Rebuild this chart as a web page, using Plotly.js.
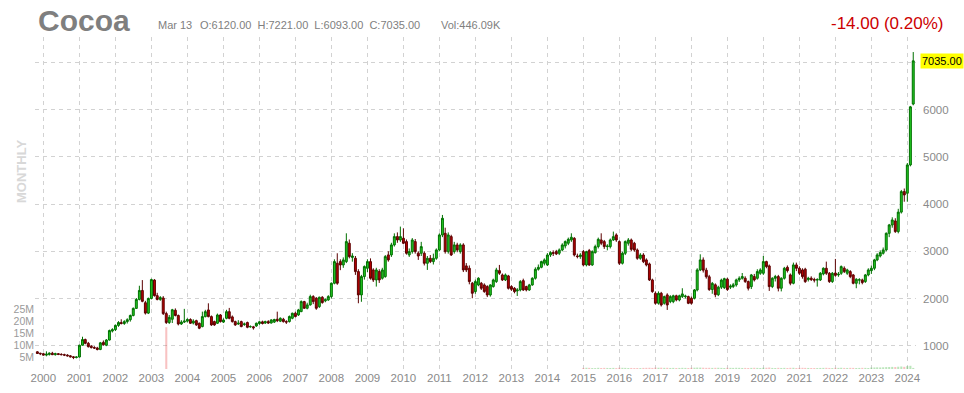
<!DOCTYPE html>
<html><head><meta charset="utf-8">
<script src="https://cdn.plot.ly/plotly-3.0.1.min.js"></script>
<style>html,body{margin:0;padding:0;background:#fff;}#chart{width:964px;height:393px;}</style>
</head><body><div id="chart"></div>
<script>
// First candle: November 1999, one candle per month through March 2024
const firstYear = 1999, firstMonth = 11;

const open = [
 870,840,
 830,800,815,840,810,830,815,810,800,785,765,750,
 760,1010,1130,1050,990,960,950,920,1070,1010,1120,1310,
 1340,1430,1490,1470,1510,1550,1640,1790,1980,2170,1910,1690,
 2000,2390,2060,1980,2010,1680,1490,1560,1750,1640,1460,1500,
 1520,1555,1480,1530,1475,1404,1616,1757,1616,1510,1475,1651,
 1500,1580,1720,1610,1510,1460,1510,1450,1490,1400,1400,1418,
 1470,1505,1480,1510,1480,1500,1560,1520,1560,1510,1511,1581,
 1687,1652,1722,1934,1793,1864,2040,2005,1828,2026,1950,1969,
 2040,2323,2746,2781,2711,2781,3170,2870,2852,2570,2076,2464,
 2640,2781,2605,2393,2570,2429,2464,2923,2923,3135,3311,3240,
 3276,3205,2923,2993,3205,2960,2958,2958,2746,2852,2781,2852,
 3029,3346,3381,2993,3311,2993,3135,2993,3135,2690,2640,2323,
 2146,2287,2322,2287,2252,2075,2252,2358,2590,2499,2393,2478,
 2252,2216,2160,2181,2378,2252,2181,2287,2428,2619,2661,2746,
 2711,2922,2972,2993,2958,3028,3113,3170,3240,3275,2900,2887,
 2993,2711,3014,2711,2972,3099,3240,3205,3099,3099,3240,3346,
 3205,2746,2958,3170,3240,3170,3028,2852,2922,2817,2732,2393,
 2110,1899,2110,1899,2075,1934,1934,2057,1969,2040,2040,2040,
 2004,2004,2181,2605,2817,2600,2460,2190,2290,2080,2240,2230,
 2410,2240,2252,2287,2393,2428,2428,2358,2252,2464,2428,2534,
 2535,2781,2690,2252,2428,2464,2217,2428,2660,2500,2322,2711,
 2640,2605,2620,2400,2430,2400,2390,2393,2520,2640,2534,2358,
 2540,2500,2534,2640,2535,2570,2499,2322,2390,2393,2358,2499,
 2590,2640,2817,2901,2958,3029,3381,3558,3643,3417,3830,4265,
 4230,4830,6120
];
const high = [
 885,850,
 845,880,860,870,850,845,840,830,820,800,780,775,
 1020,1190,1150,1080,1010,990,975,1080,1110,1140,1340,1370,
 1450,1520,1560,1540,1580,1660,1810,2010,2270,2390,1950,2020,
 2420,2410,2120,2050,2050,1720,1650,1780,1790,1660,1540,1780,
 1580,1580,1560,1550,1490,1721,1760,1898,1640,1530,1680,1670,
 1580,1760,1800,1640,1530,1540,1530,1490,1510,1430,1420,1490,
 1520,1530,1530,1540,1560,1570,1721,1600,1590,1540,1640,1700,
 1720,1780,1960,1950,1910,2080,2070,2030,2040,2050,2000,2070,
 2340,2830,2958,2830,2870,3381,3250,2960,2900,2620,2500,2700,
 2830,2850,2640,2650,2620,2650,2920,3000,3180,3380,3400,3523,
 3487,3250,3060,3280,3260,3000,3200,3000,2900,2920,2950,3060,
 3380,3770,3500,3400,3350,3200,3180,3170,3170,2750,2700,2350,
 2400,2450,2350,2320,2280,2300,2420,2650,2711,2530,2530,2500,
 2280,2240,2220,2390,2420,2270,2310,2450,2660,2720,2800,2850,
 2960,3000,3020,3030,3060,3170,3230,3290,3381,3300,2950,2960,
 3030,3010,3050,3020,3140,3290,3381,3240,3150,3270,3417,3380,
 3230,2990,3230,3280,3270,3200,3060,2960,2960,2850,2760,2420,
 2150,2150,2140,2060,2110,2070,2080,2080,2080,2217,2080,2060,
 2040,2200,2640,2936,2870,2650,2500,2350,2320,2270,2420,2440,
 2440,2300,2330,2420,2470,2540,2470,2380,2520,2520,2620,2640,
 2901,2800,2720,2450,2500,2500,2450,2670,2700,2530,2760,2760,
 2680,2640,2650,2460,2470,2440,2430,2560,2660,2781,2560,2560,
 2838,2560,2700,2680,2630,2600,2520,2430,2430,2420,2520,2640,
 2700,2840,2960,3020,3080,3400,3580,3720,3700,3900,4300,4330,
 4870,6080,7221
];
const low = [
 830,800,
 790,775,790,800,790,800,795,780,770,750,715,730,
 750,1000,1030,960,940,930,900,905,1000,990,1110,1280,
 1310,1400,1450,1440,1470,1510,1620,1780,1960,1920,1660,1670,
 1980,2040,1960,1950,1650,1460,1460,1480,1620,1430,1440,1480,
 1490,1460,1450,1420,1350,1390,1600,1600,1420,1420,1460,1490,
 1480,1560,1560,1490,1420,1440,1390,1420,1370,1380,1340,1400,
 1440,1450,1460,1460,1470,1480,1500,1500,1490,1460,1490,1560,
 1600,1630,1710,1780,1770,1850,1880,1760,1800,1890,1920,1950,
 2000,2300,2290,2600,2650,2750,2850,2780,2500,1899,1930,2400,
 2560,2400,2350,2252,2330,2400,2440,2780,2880,3100,3180,3200,
 3150,2930,2880,2950,2950,2817,2900,2700,2605,2750,2720,2820,
 3000,3300,2950,2950,2900,2950,2980,2950,2560,2560,2300,2005,
 2100,2260,2180,2120,2030,2040,2230,2330,2500,2370,2370,2190,
 2160,2110,2054,2150,2160,2150,2160,2270,2400,2590,2640,2700,
 2690,2880,2900,2920,2920,3000,3060,3130,3200,2890,2850,2840,
 2680,2680,2690,2690,2950,3060,3130,3050,3020,3060,3220,3200,
 2710,2720,2920,3120,3000,2990,2820,2820,2750,2680,2370,2120,
 1870,1870,1830,1870,1757,1900,1900,1940,1940,2010,2000,1880,
 1870,1980,2150,2580,2550,2420,2160,2100,2026,2050,2200,2200,
 2160,2200,2220,2250,2350,2400,2330,2170,2200,2360,2400,2500,
 2500,2640,2160,2220,2360,2150,2150,2400,2550,2280,2300,2580,
 2500,2420,2330,2360,2370,2340,2252,2370,2490,2500,2330,2330,
 2460,2460,2500,2540,2500,2430,2300,2217,2300,2300,2330,2470,
 2520,2600,2790,2870,2930,3000,3300,3500,3390,3380,3800,4050,
 4050,4800,6093
];
const close = [
 835,830,
 800,820,840,810,830,815,810,800,785,765,750,760,
 1010,1130,1050,980,960,950,920,1060,1020,1120,1320,1340,
 1430,1490,1470,1510,1550,1640,1790,1980,2170,1940,1690,2000,
 2400,2060,1980,2020,1680,1490,1600,1760,1640,1460,1500,1520,
 1555,1475,1520,1440,1370,1616,1721,1616,1440,1440,1651,1510,
 1545,1720,1580,1510,1440,1475,1405,1460,1390,1405,1380,1475,
 1505,1470,1510,1480,1545,1555,1530,1580,1510,1500,1617,1687,
 1617,1758,1934,1793,1864,2040,1934,1793,2026,1913,1975,2040,
 2323,2781,2323,2711,2817,3205,2887,2900,2570,2076,2464,2676,
 2781,2429,2393,2605,2393,2605,2887,2817,3135,3311,3240,3311,
 3170,2958,2993,3240,2993,2900,3099,2746,2852,2781,2852,3029,
 3346,3699,2993,3346,2923,3135,3029,3135,2605,2605,2358,2111,
 2358,2429,2216,2146,2075,2287,2393,2605,2534,2393,2499,2216,
 2195,2146,2180,2358,2181,2181,2287,2428,2619,2660,2781,2817,
 2922,2972,2958,2944,3028,3134,3205,3254,3297,2922,2888,2922,
 2711,2993,2711,2993,3099,3254,3170,3099,3110,3240,3310,3240,
 2746,2958,3205,3240,3042,3028,2852,2922,2781,2711,2393,2146,
 1899,2110,1863,2040,1863,2040,2057,1969,2057,2097,2050,1899,
 1899,2181,2605,2817,2600,2460,2190,2320,2080,2240,2390,2420,
 2190,2260,2290,2393,2428,2464,2358,2217,2499,2393,2570,2605,
 2781,2676,2252,2428,2464,2217,2428,2640,2590,2322,2711,2640,
 2534,2464,2358,2430,2400,2390,2400,2534,2640,2534,2358,2534,
 2490,2515,2676,2570,2605,2464,2322,2407,2395,2337,2499,2605,
 2640,2817,2923,2972,3029,3381,3558,3664,3417,3830,4265,4194,
 4830,6060,7035
];
// Monthly volume (contracts); only one bar before 2015 is visible
const volume = [
 0,0,
 0,0,0,0,0,0,0,0,0,0,0,0,
 0,0,0,0,0,0,0,0,0,0,0,0,
 0,0,0,0,0,0,0,0,0,0,0,0,
 0,0,0,0,0,17500000,0,0,0,0,0,0,
 0,0,0,0,0,0,0,0,0,0,0,0,
 0,0,0,0,0,0,0,0,0,0,0,0,
 0,0,0,0,0,0,0,0,0,0,0,0,
 0,0,0,0,0,0,0,0,0,0,0,0,
 0,0,0,0,0,0,0,0,0,0,0,0,
 0,0,0,0,0,0,0,0,0,0,0,0,
 0,0,0,0,0,0,0,0,0,0,0,0,
 0,0,0,0,0,0,0,0,0,0,0,0,
 0,0,0,0,0,0,0,0,0,0,0,0,
 0,0,0,0,0,0,0,0,0,0,0,0,
 0,0,0,0,0,0,0,0,0,0,0,0,
 450000,520000,480000,400000,380000,500000,420000,470000,440000,410000,460000,390000,
 550000,500000,470000,420000,440000,400000,430000,380000,460000,490000,520000,450000,
 580000,530000,550000,480000,500000,440000,470000,420000,450000,490000,460000,410000,
 520000,550000,600000,580000,540000,480000,500000,460000,490000,520000,470000,430000,
 500000,480000,460000,520000,490000,440000,450000,420000,470000,500000,460000,410000,
 550000,520000,620000,450000,420000,480000,440000,470000,430000,490000,510000,400000,
 480000,500000,460000,440000,410000,430000,400000,450000,470000,490000,440000,390000,
 500000,470000,520000,450000,440000,480000,460000,430000,450000,480000,460000,420000,
 620000,650000,700000,660000,720000,800000,850000,880000,820000,950000,1050000,900000,
 1200000,1350000,446090
];
const yearTicks = [2000,2001,2002,2003,2004,2005,2006,2007,2008,2009,2010,2011,2012,2013,2014,2015,2016,2017,2018,2019,2020,2021,2022,2023,2024];
const priceTicks = [1000,2000,3000,4000,5000,6000,7000];
const volTicks = [5000000,10000000,15000000,20000000,25000000];
const volTickText = ['5M','10M','15M','20M','25M'];
const headerDate = 'Mar 13';
const headerOHLC = 'O:6120.00  H:7221.00  L:6093.00  C:7035.00';
const headerVol = 'Vol:446.09K';
const changeText = '-14.00 (0.20%)';
const lastPriceText = '7035.00';

const dates = close.map((_, k) => {
  const m = firstMonth - 1 + k;
  const y = firstYear + Math.floor(m / 12);
  const mm = (m % 12) + 1;
  return y + '-' + String(mm).padStart(2, '0') + '-01';
});

const W = 964, H = 393, L = 35, R = 48, T = 37, B = 24;
const px = x => (x - L) / (W - L - R);
const py = y => (H - B - y) / (H - T - B);

const volColors = close.map((c, k) => c < open[k] ? 'rgba(235,80,80,0.35)' : 'rgba(60,180,60,0.35)');

const traces = [
  {type: 'bar', x: dates, y: volume, yaxis: 'y2', marker: {color: volColors, line: {width: 0}}, hoverinfo: 'skip'},
  {type: 'candlestick', x: dates, open: open, high: high, low: low, close: close,
   increasing: {line: {color: '#007000', width: 1}, fillcolor: '#22c822'},
   decreasing: {line: {color: '#5c0000', width: 1}, fillcolor: '#b80000'},
   whiskerwidth: 0, hoverinfo: 'skip'}
];

const gridStyle = {showgrid: true, gridcolor: '#d2d2d2', griddash: '4px,4px', gridwidth: 1, zeroline: false, showline: false, ticks: ''};
const font = 'Arial, "Liberation Sans", sans-serif';
const tickFont = {family: font, size: 11.5, color: '#8a8a8a'};

const layout = {
  width: W, height: H,
  margin: {l: L, r: R, t: T, b: B},
  paper_bgcolor: '#ffffff', plot_bgcolor: '#ffffff',
  showlegend: false, bargap: 0.25, boxgap: 0,
  xaxis: Object.assign({}, gridStyle, {
    type: 'date', range: ['1999-10-08', '2024-03-29'],
    tickvals: yearTicks.map(y => y + '-01-01'), ticktext: yearTicks.map(String),
    tickfont: tickFont, rangeslider: {visible: false}
  }),
  yaxis: Object.assign({}, gridStyle, {
    side: 'right', range: [506, 7540],
    tickvals: priceTicks, ticktext: priceTicks.map(v => v === 7000 ? '' : String(v)),
    tickfont: tickFont, ticklabelstandoff: 6
  }),
  yaxis2: {
    overlaying: 'y', side: 'left', range: [0, 139000000],
    tickvals: volTicks, ticktext: volTickText, showgrid: false, zeroline: false, showline: false, ticks: '',
    tickfont: {family: font, size: 10.5, color: '#9a9a9a'}
  },
  annotations: [
    {xref: 'paper', yref: 'paper', x: px(36), y: py(20), xanchor: 'left', yanchor: 'middle', showarrow: false,
     text: '<b>Cocoa</b>', font: {family: font, size: 30, color: '#7f7f7f'}},
    {xref: 'paper', yref: 'paper', x: px(156), y: py(25), xanchor: 'left', yanchor: 'middle', showarrow: false,
     text: headerDate, font: {family: font, size: 11, color: '#808080'}},
    {xref: 'paper', yref: 'paper', x: px(198), y: py(25), xanchor: 'left', yanchor: 'middle', showarrow: false,
     text: headerOHLC, font: {family: font, size: 11, color: '#808080'}},
    {xref: 'paper', yref: 'paper', x: px(439), y: py(25), xanchor: 'left', yanchor: 'middle', showarrow: false,
     text: headerVol, font: {family: font, size: 11, color: '#808080'}},
    {xref: 'paper', yref: 'paper', x: px(945), y: py(24), xanchor: 'right', yanchor: 'middle', showarrow: false,
     text: changeText, font: {family: font, size: 17, color: '#cc0000'}},
    {xref: 'paper', yref: 'paper', x: px(22), y: py(172), xanchor: 'center', yanchor: 'middle', showarrow: false,
     textangle: -90, text: '<b>MONTHLY</b>', font: {family: font, size: 13, color: '#d8d8d8'}},
    {xref: 'paper', yref: 'y', x: 1, y: close[close.length - 1], xanchor: 'left', yanchor: 'middle', xshift: 4,
     showarrow: false, text: lastPriceText, bgcolor: '#ffff00', borderpad: 1,
     font: {family: font, size: 11, color: '#000000'}}
  ]
};

Plotly.newPlot('chart', traces, layout, {staticPlot: true, displayModeBar: false});
</script>
</body></html>
